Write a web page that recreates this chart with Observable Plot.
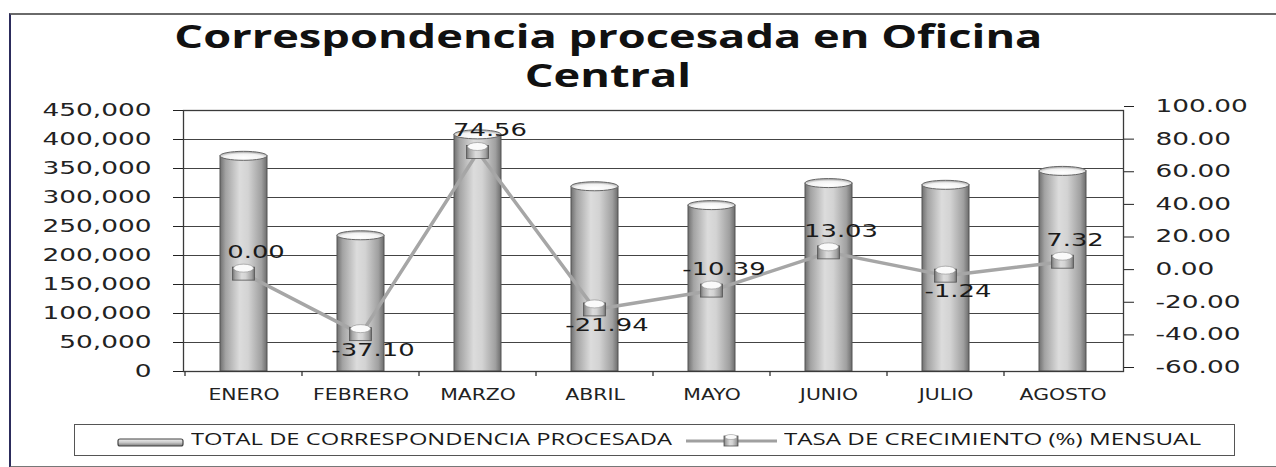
<!DOCTYPE html>
<html><head><meta charset="utf-8">
<script src="https://cdn.jsdelivr.net/npm/d3@7"></script>
<script src="https://cdn.jsdelivr.net/npm/@observablehq/plot@0.6"></script>
<style>
body{margin:0;background:#fff;}
#wrap{position:relative;width:1276px;height:467px;overflow:hidden;background:#fff;}
#border{position:absolute;left:9px;top:13px;width:1290px;height:451px;border-left:2px solid #2c2c5c;border-top:2px solid #6a6a6a;border-bottom:2px solid #777;}
.tline{position:absolute;left:0;width:1216px;text-align:center;font-family:"Open Sans";font-weight:700;font-size:32px;line-height:36px;color:#111;white-space:nowrap;}
.tline span{display:inline-block;transform-origin:50% 50%;}
#chart{position:absolute;left:0;top:90px;}
#legbox{position:absolute;left:74px;top:424px;width:1159px;height:30px;border:1.5px solid #555;}
.legtxt{position:absolute;top:431px;font-family:"Open Sans";font-size:15.5px;line-height:16px;color:#1a1a1a;white-space:nowrap;transform-origin:0 50%;}
#legsym{position:absolute;left:0;top:0;}
</style></head>
<body>
<div id="wrap">
  <div id="border"></div>
  <div class="tline" id="t1" style="top:18px"><span></span></div>
  <div class="tline" id="t2" style="top:57px"><span></span></div>
  <div id="chart"></div>
  <div id="legbox"></div>
  <svg id="legsym" width="1276" height="467"></svg>
  <div class="legtxt" id="lg1" style="left:191px"></div>
  <div class="legtxt" id="lg2" style="left:784px"></div>
</div>
<script>
const titleLines = ["Correspondencia procesada en Oficina", "Central"];
const months = ["ENERO","FEBRERO","MARZO","ABRIL","MAYO","JUNIO","JULIO","AGOSTO"];
const totals = [371000, 234000, 408000, 318500, 286000, 324000, 321000, 345000];
const growth = [0.00, -37.10, 74.56, -21.94, -10.39, 13.03, -1.24, 7.32];
const leftTicks = [0, 50000, 100000, 150000, 200000, 250000, 300000, 350000, 400000, 450000];
const rightTicks = [-60, -40, -20, 0, 20, 40, 60, 80, 100];
const seriesNames = ["TOTAL DE CORRESPONDENCIA PROCESADA", "TASA DE CRECIMIENTO (%) MENSUAL"];

const L0 = leftTicks[0], L1 = leftTicks[leftTicks.length-1];
const R0 = rightTicks[0], R1 = rightTicks[rightTicks.length-1];
const toLeft = v => (v - R0) / (R1 - R0) * (L1 - L0) + L0;
const fromLeft = v => (v - L0) / (L1 - L0) * (R1 - R0) + R0;

const data = months.map((m, i) => ({
  month: m, total: totals[i], growth: growth[i],
  above: i === 0 || growth[i] >= growth[i-1]
}));

function defsMark() {
  const g = d3.create("svg:g");
  const defs = g.append("defs");
  const lg = defs.append("linearGradient").attr("id","cyl").attr("x1",0).attr("x2",1).attr("y1",0).attr("y2",0);
  [[0,"#707070"],[0.12,"#a3a3a3"],[0.42,"#dcdcdc"],[0.6,"#d3d3d3"],[0.88,"#a0a0a0"],[1,"#6c6c6c"]]
    .forEach(([o,c]) => lg.append("stop").attr("offset",o).attr("stop-color",c));
  const cap = defs.append("radialGradient").attr("id","cap").attr("cx","50%").attr("cy","70%").attr("r","60%");
  [[0,"#ffffff"],[0.7,"#f2f2f2"],[1,"#b5b5b5"]].forEach(([o,c]) => cap.append("stop").attr("offset",o).attr("stop-color",c));
  return g.node();
}

function topsMark(index, scales) {
  const g = d3.create("svg:g");
  const bw = scales.x.bandwidth();
  for (const d of data) {
    const cx = scales.x(d.month) + bw/2, cy = scales.y(d.total);
    g.append("ellipse").attr("cx",cx).attr("cy",cy).attr("rx",bw/2).attr("ry",4.5)
      .attr("fill","url(#cap)").attr("stroke","#666").attr("stroke-width",1);
  }
  return g.node();
}

function markersMark(index, scales) {
  const g = d3.create("svg:g");
  const bw = scales.x.bandwidth();
  for (const d of data) {
    const cx = scales.x(d.month) + bw/2, cy = scales.y(toLeft(d.growth));
    g.append("rect").attr("x",cx-11).attr("y",cy-6).attr("width",22).attr("height",13)
      .attr("fill","url(#cyl)").attr("stroke","#555").attr("stroke-width",0.8);
    g.append("ellipse").attr("cx",cx).attr("cy",cy-5).attr("rx",10).attr("ry",4)
      .attr("fill","#fafafa").attr("stroke","#888").attr("stroke-width",0.6);
  }
  return g.node();
}

function catTicksMark(index, scales, values, dims) {
  const g = d3.create("svg:g");
  const step = scales.x.step(), bw = scales.x.bandwidth();
  const y0 = dims.height - dims.marginBottom;
  months.forEach(m => {
    const x = scales.x(m) - (step - bw) / 2;
    g.append("line").attr("x1",x).attr("x2",x).attr("y1",y0).attr("y2",y0+5).attr("stroke","#333").attr("stroke-width",1.3);
  });
  return g.node();
}

const font = "DejaVu Sans";
const svg = Plot.plot({
  width: 1276, height: 325,
  marginTop: 20, marginBottom: 44, marginLeft: 183, marginRight: 153,
  style: {background: "transparent", overflow: "visible"},
  x: {domain: months, paddingInner: 0.6, paddingOuter: 0.3, label: null},
  y: {domain: [L0, L1], label: null},
  marks: [
    defsMark,
    Plot.gridY(leftTicks, {stroke: "#444", strokeOpacity: 1, strokeWidth: 1.2}),
    Plot.barY(data, {x: "month", y: "total", fill: "url(#cyl)", stroke: "#555", strokeWidth: 1}),
    topsMark,
    Plot.frame({stroke: "#3a3a3a", strokeWidth: 1.3}),
    Plot.line(data, {x: "month", y: d => toLeft(d.growth), stroke: "#a6a6a6", strokeWidth: 3.5}),
    markersMark,
    Plot.text(data.filter(d => d.above), {x: "month", y: d => toLeft(d.growth), text: d => d.growth.toFixed(2),
      dx: 12, dy: -21, fontSize: 17, fontFamily: font, fill: "#1a1a1a"}),
    Plot.text(data.filter(d => !d.above), {x: "month", y: d => toLeft(d.growth), text: d => d.growth.toFixed(2),
      dx: 12, dy: 16, fontSize: 17, fontFamily: font, fill: "#1a1a1a"}),
    Plot.axisY(leftTicks, {anchor: "left", tickSize: 10, tickPadding: 22, tickFormat: d3.format(","),
      fontSize: 17, fontFamily: font, color: "#222", label: null}),
    Plot.axisY(rightTicks.map(toLeft), {anchor: "right", tickSize: 10, tickPadding: 22,
      tickFormat: d => fromLeft(d).toFixed(2), dy: -4, fontSize: 17, fontFamily: font, color: "#222", label: null}),
    Plot.axisX({tickSize: 0, tickPadding: 18, fontSize: 15, fontFamily: font, color: "#222", label: null}),
    catTicksMark
  ]
});
document.getElementById("chart").append(svg);

// horizontal stretch of texts (the reference scan is stretched horizontally)
svg.querySelectorAll("text").forEach(t => {
  const g = t.closest("g[aria-label]");
  const lab = g ? g.getAttribute("aria-label") : "";
  const k = lab.includes("x-axis") ? 1.36 : lab.includes("y-axis") ? 1.55 : 1.52;
  const w = t.getComputedTextLength();
  if (w > 0) {
    t.setAttribute("textLength", w * k);
    t.setAttribute("lengthAdjust", "spacingAndGlyphs");
  }
});

// title
const s1 = document.querySelector("#t1 span"), s2 = document.querySelector("#t2 span");
s1.textContent = titleLines[0]; s2.textContent = titleLines[1];
const kt = 868 / s1.getBoundingClientRect().width;
s1.style.transform = `scaleX(${kt})`; s2.style.transform = `scaleX(${kt})`;

// legend
const l1 = document.getElementById("lg1"), l2 = document.getElementById("lg2");
l1.textContent = seriesNames[0]; l2.textContent = seriesNames[1];
l1.style.transform = `scaleX(${481 / l1.getBoundingClientRect().width})`;
l2.style.transform = `scaleX(${417 / l2.getBoundingClientRect().width})`;

const ls = d3.select("#legsym");
const lgd = ls.append("defs").append("linearGradient").attr("id","lgbar").attr("x1",0).attr("x2",0).attr("y1",0).attr("y2",1);
[[0,"#f0f0f0"],[0.5,"#c8c8c8"],[1,"#7a7a7a"]].forEach(([o,c]) => lgd.append("stop").attr("offset",o).attr("stop-color",c));
ls.append("rect").attr("x",118).attr("y",439).attr("width",65).attr("height",7).attr("rx",2)
  .attr("fill","url(#lgbar)").attr("stroke","#444").attr("stroke-width",1.2);
ls.append("line").attr("x1",686).attr("x2",777).attr("y1",441).attr("y2",441).attr("stroke","#a0a0a0").attr("stroke-width",3);
ls.append("rect").attr("x",724).attr("y",436).attr("width",14).attr("height",10).attr("fill","url(#cyl)").attr("stroke","#555").attr("stroke-width",0.8);
ls.append("ellipse").attr("cx",731).attr("cy",437).attr("rx",6).attr("ry",2.5).attr("fill","#fafafa").attr("stroke","#888").attr("stroke-width",0.5);
</script>
</body></html>
